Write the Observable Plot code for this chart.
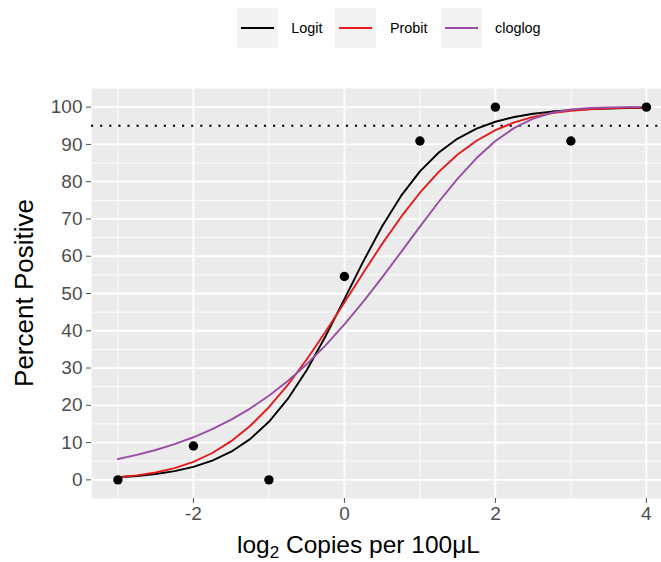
<!DOCTYPE html>
<html>
<head>
<meta charset="utf-8">
<script src="https://cdn.jsdelivr.net/npm/d3@7"></script>
<script src="https://cdn.jsdelivr.net/npm/@observablehq/plot@0.6"></script>
<style>
  body { margin: 0; background: #fff; font-family: "Liberation Sans", Arial, sans-serif; }
  #wrap { position: relative; width: 661px; height: 562px; overflow: hidden; }
  #legend { position: absolute; left: 236.7px; top: 8.3px; height: 40px; display: flex; align-items: center; }
  .key { width: 41px; height: 40px; background: #F2F2F2; position: relative; }
  .key span { position: absolute; left: 4px; right: 4px; top: 19px; height: 2.2px; }
  .lab { font-size: 14.4px; color: #000; margin-left: 13.5px; margin-right: 13px; }
  #chart { position: absolute; left: 0; top: 50px; }
</style>
</head>
<body>
<div id="wrap">
  <div id="legend"></div>
  <div id="chart"></div>
</div>
<script>
// ---- data ----
const doseX = [-3, -2, -1, 0, 1, 2, 3, 4];
const observedPct = [0, 9.09, 0, 54.55, 90.91, 100, 90.91, 100];

const curveX = [-3, -2.75, -2.5, -2.25, -2, -1.75, -1.5, -1.25, -1, -0.75, -0.5, -0.25, 0,
  0.25, 0.5, 0.75, 1, 1.25, 1.5, 1.75, 2, 2.25, 2.5, 2.75, 3, 3.25, 3.5, 3.75, 4];
const logitPct = [0.70, 1.05, 1.57, 2.35, 3.49, 5.15, 7.55, 10.93, 15.58, 21.71, 29.42, 38.52, 48.50,
  58.60, 68.03, 76.18, 82.78, 87.84, 91.57, 94.23, 96.08, 97.36, 98.23, 98.81, 99.21, 99.47, 99.65, 99.77, 99.84];
const probitPct = [0.69, 1.19, 1.97, 3.14, 4.85, 7.21, 10.38, 14.46, 19.49, 25.46, 32.28, 39.74, 47.61,
  55.57, 63.31, 70.54, 77.04, 82.64, 87.29, 90.99, 93.82, 95.91, 97.38, 98.38, 99.04, 99.45, 99.69, 99.84, 99.92];
const cloglogPct = [5.59, 6.70, 8.02, 9.58, 11.43, 13.60, 16.16, 19.13, 22.58, 26.53, 31.04, 36.09, 41.70,
  47.80, 54.32, 61.10, 67.95, 74.61, 80.83, 86.34, 90.92, 94.44, 96.93, 98.50, 99.36, 99.77, 99.94, 99.99, 100.00];

const models = ["Logit", "Probit", "cloglog"];
const modelColors = ["#000000", "#E41A1C", "#984EA3"];
const threshold = [95];

const xTicks = [-2, 0, 2, 4];
const xMinor = [-3, -1, 1, 3];
const yTicks = [0, 10, 20, 30, 40, 50, 60, 70, 80, 90, 100];
const yMinor = [5, 15, 25, 35, 45, 55, 65, 75, 85, 95];

// ---- tables ----
const points = doseX.map((x, i) => ({x, y: observedPct[i]}));
const series = [logitPct, probitPct, cloglogPct];
const curves = models.flatMap((m, k) => curveX.map((x, i) => ({model: m, x, y: series[k][i]})));

// ---- legend ----
const legend = d3.select("#legend");
models.forEach((m, k) => {
  const key = legend.append("div").attr("class", "key");
  key.append("span").style("background", modelColors[k]);
  legend.append("div").attr("class", "lab").text(m);
});

// ---- plot ----
const W = 661, H = 512;
const chart = Plot.plot({
  width: W,
  height: H,
  marginTop: 38,
  marginBottom: 64,
  marginLeft: 91,
  marginRight: 0,
  style: {fontFamily: "Liberation Sans, Arial, sans-serif", fontSize: "19px", background: "white"},
  x: {domain: [-3.35, 4.2]},
  y: {domain: [-5, 105]},
  color: {domain: models, range: modelColors},
  marks: [
    Plot.frame({fill: "#EBEBEB", stroke: "none"}),
    Plot.ruleY(yMinor, {stroke: "white", strokeWidth: 0.9}),
    Plot.ruleX(xMinor, {stroke: "white", strokeWidth: 0.9}),
    Plot.ruleY(yTicks, {stroke: "white", strokeWidth: 1.8}),
    Plot.ruleX(xTicks, {stroke: "white", strokeWidth: 1.8}),
    Plot.ruleY(threshold, {stroke: "black", strokeWidth: 2.2, strokeDasharray: "2.2,6.9"}),
    Plot.line(curves, {x: "x", y: "y", z: "model", stroke: "model", strokeWidth: 1.9}),
    Plot.dot(points, {x: "x", y: "y", r: 4.7, fill: "black", stroke: "none"}),
    Plot.axisX(xTicks, {tickSize: 5, tickPadding: 3, fontSize: 19, color: "#4D4D4D",
      tickFormat: d => String(d), label: null}),
    Plot.axisY(yTicks, {tickSize: 5, tickPadding: 4, fontSize: 19, color: "#4D4D4D",
      tickFormat: d => String(d), label: null})
  ]
});
document.getElementById("chart").appendChild(chart);

// axis titles (with real subscript)
const svg = d3.select(chart);
const xt = svg.append("text")
  .attr("x", 237).attr("y", 503)
  .attr("text-anchor", "start")
  .attr("font-size", 24.5).attr("fill", "black")
  .attr("font-family", "Liberation Sans, Arial, sans-serif");
xt.append("tspan").text("log");
xt.append("tspan").attr("font-size", 17).attr("dy", 5).text("2");
xt.append("tspan").attr("dy", -5).text(" Copies per 100\u03BCL");

svg.append("text")
  .attr("transform", "translate(33,243) rotate(-90)")
  .attr("text-anchor", "middle")
  .attr("font-size", 26).attr("fill", "black")
  .attr("font-family", "Liberation Sans, Arial, sans-serif")
  .text("Percent Positive");
</script>
</body>
</html>
